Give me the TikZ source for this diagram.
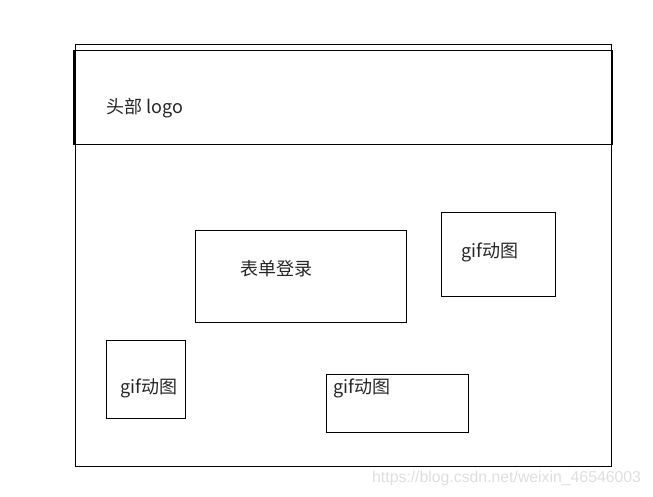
\documentclass[tikz,border=0pt]{standalone}
\usepackage{fontspec}
\setmainfont{Noto Sans CJK SC}
\newfontfamily\markfont{Liberation Sans}
\usetikzlibrary{positioning}
\tikzset{
  panel/.style={draw, line width=0.9pt, inner sep=0pt, anchor=north west},
  caption/.style={anchor=west, inner sep=0pt, font=\fontsize{18}{20}\selectfont, text=black!85},
}
\begin{document}
\begin{tikzpicture}[x=1pt, y=-1pt]
  \useasboundingbox (0,0) rectangle (653,496);
  \node[panel, minimum width=536pt, minimum height=422pt] (page) at (75,44) {};
  \node[panel, minimum width=537pt, minimum height=94pt] (head) at (74,50) {};
  \draw[line width=1.6pt] (head.north west) -- (head.south west);
  \draw[line width=1.6pt] (head.north east) -- (head.south east);
  \node[caption] (headtxt) at (106,108.5) {头部 logo};
  \node[panel, minimum width=211pt, minimum height=92pt] (form) at (195,230) {};
  \node[caption] (formtxt) at (240,268.5) {表单登录};
  \node[panel, minimum width=114pt, minimum height=84pt] (gifa) at (441,212) {};
  \node[caption] (gifatxt) at (461,252.5) {gif动图};
  \node[panel, minimum width=79pt, minimum height=78pt] (gifb) at (106,340) {};
  \node[caption] (gifbtxt) at (120,388.5) {gif动图};
  \node[panel, minimum width=142pt, minimum height=58pt] (gifc) at (326,374) {};
  \node[caption] (gifctxt) at (333,388.5) {gif动图};
  \node[anchor=west, inner sep=0pt, text=black!13, font=\markfont\fontsize{15.8}{17}\selectfont] (mark) at (372,478) {https://blog.csdn.net/weixin\_46546003};
\end{tikzpicture}
\end{document}
